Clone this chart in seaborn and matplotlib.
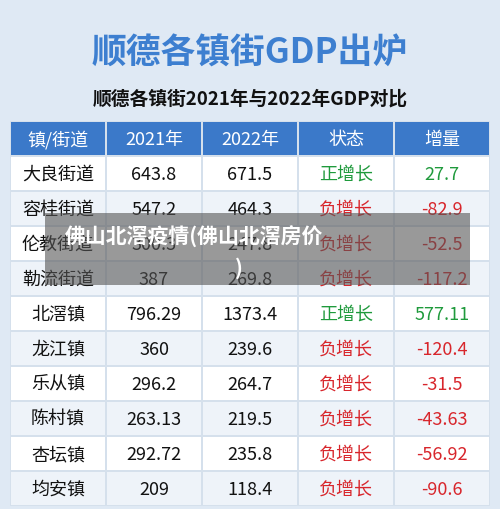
import numpy as np
import matplotlib.pyplot as plt
import seaborn as sns
from matplotlib.colors import ListedColormap
from matplotlib.patches import Rectangle

sns.set_theme(style="white")
plt.rcParams['font.family'] = ['Noto Sans CJK SC', 'DejaVu Sans']

headers = ["镇/街道", "2021年", "2022年", "状态", "增量"]
towns = ["大良街道", "容桂街道", "伦教街道", "勒流街道", "北滘镇",
         "龙江镇", "乐从镇", "陈村镇", "杏坛镇", "均安镇"]
gdp_2021 = ["643.8", "547.2", "300.3", "387", "796.29",
            "360", "296.2", "263.13", "292.72", "209"]
gdp_2022 = ["671.5", "464.3", "247.8", "269.8", "1373.4",
            "239.6", "264.7", "219.5", "235.8", "118.4"]
change = [27.7, -82.9, -52.5, -117.2, 577.11, -120.4, -31.5, -43.63, -56.92, -90.6]
change_txt = ["27.7", "-82.9", "-52.5", "-117.2", "577.11",
              "-120.4", "-31.5", "-43.63", "-56.92", "-90.6"]

bg = "#dfe9f4"
fig = plt.figure(figsize=(5, 5.1), dpi=100, facecolor=bg)
fig.text(0.5, 0.895, "顺德各镇街GDP出炉", ha="center", va="center",
         fontsize=25, fontweight="bold", color="#3d7fd0")
fig.text(0.5, 0.805, "顺德各镇街2021年与2022年GDP对比", ha="center", va="center",
         fontsize=13.5, fontweight="bold", color="#111111")

ax = fig.add_axes([0.02, 0.005, 0.96, 0.755])
n = len(towns) + 1
grid = np.array([[0] * 5] + [[1 + (i % 2)] * 5 for i in range(len(towns))])
cmap = ListedColormap(["#3b79c9", "#ffffff", "#eef3f9"])
sns.heatmap(grid, cmap=cmap, cbar=False, linewidths=1.2, linecolor="#d5e0ec",
            vmin=0, vmax=2, ax=ax, xticklabels=False, yticklabels=False)

for j, h in enumerate(headers):
    ax.text(j + 0.5, 0.5, h, ha="center", va="center", color="white", fontsize=13)

green, red = "#1f9a3c", "#d8262c"
for i, t in enumerate(towns):
    y = i + 1.5
    up = change[i] > 0
    c = green if up else red
    ax.text(0.5, y, t, ha="center", va="center", fontsize=13, color="#111111")
    ax.text(1.5, y, gdp_2021[i], ha="center", va="center", fontsize=13, color="#111111")
    ax.text(2.5, y, gdp_2022[i], ha="center", va="center", fontsize=13, color="#111111")
    ax.text(3.5, y, "正增长" if up else "负增长", ha="center", va="center", fontsize=13, color=c)
    ax.text(4.5, y, change_txt[i], ha="center", va="center", fontsize=13, color=c)

# overlay banner
fig.patches.append(Rectangle((0.09, 0.44), 0.85, 0.14, transform=fig.transFigure,
                             facecolor="#555555", alpha=0.6, edgecolor="none"))
fig.text(0.13, 0.535, "佛山北滘疫情(佛山北滘房价", ha="left", va="center",
         fontsize=15, fontweight="bold", color="white")
fig.text(0.47, 0.475, ")", ha="left", va="center",
         fontsize=15, fontweight="bold", color="white")

fig.savefig("out.png", facecolor=bg)
